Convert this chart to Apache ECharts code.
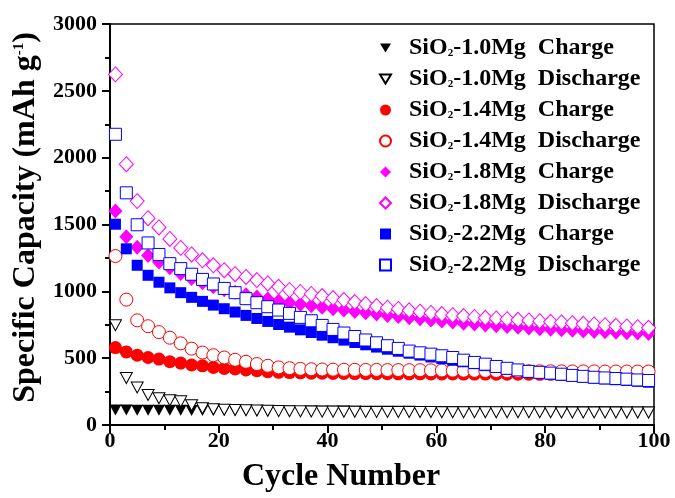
<!DOCTYPE html>
<html>
<head>
<meta charset="utf-8">
<script src="https://cdn.jsdelivr.net/npm/echarts@6/dist/echarts.min.js"></script>
<style>
html,body{margin:0;padding:0;background:#fff;}
#chart{width:675px;height:498px;}
</style>
</head>
<body>
<div id="chart"></div>
<script>
// cycles 1,3,5,...,99
const cycles = [];
for (let c = 1; c <= 99; c += 2) cycles.push(c);

const xTicks = [0, 20, 40, 60, 80, 100];
const yTicks = [0, 500, 1000, 1500, 2000, 2500, 3000];

const mg10Charge = [112,112,111,111,110,110,110,109,109,108,
  108,107,107,106,106,106,105,105,105,104,
  104,104,103,103,103,102,102,102,101,101,
  101,101,100,100,100,100,100,100,100,100,
  100,99,99,99,99,99,99,98,98,98];
const mg10Discharge = [746,351,281,225,200,185,177,148,126,118,
  114,112,110,108,106,104,103,102,101,100,
  100,99,99,98,98,98,97,97,97,97,
  96,96,96,96,96,95,95,95,95,95,
  95,94,94,94,94,94,94,93,93,93];
const mg14Charge = [579,547,522,505,493,473,463,449,443,431,
  423,419,412,406,399,394,392,390,388,387,
  386,386,385,385,384,384,383,383,383,382,
  382,382,381,381,381,380,380,380,380,379,
  379,379,379,378,378,378,378,378,377,377];
const mg14Discharge = [1264,938,783,739,695,653,611,571,542,522,
  505,488,473,456,443,431,425,420,417,415,
  414,413,413,412,412,411,411,410,410,409,
  408,407,406,405,404,404,403,403,402,402,
  402,401,401,401,401,400,400,400,400,400];
const mg18Charge = [1601,1409,1330,1269,1219,1177,1133,1096,1064,1034,
  1012,993,975,958,942,928,915,903,892,881,
  870,860,850,840,830,820,811,802,794,786,
  778,770,762,755,748,742,736,731,726,721,
  716,712,708,704,700,697,694,691,688,685];
const mg18Discharge = [2623,1951,1675,1547,1478,1392,1325,1276,1232,1195,
  1158,1128,1108,1084,1059,1034,1010,995,980,965,
  950,935,920,905,890,878,868,858,848,838,
  830,822,815,808,802,797,792,787,782,777,
  772,767,762,757,752,747,742,737,732,727];
const mg22Charge = [1502,1318,1195,1120,1068,1026,990,955,925,897,
  870,845,820,797,775,752,732,712,692,672,
  653,635,617,600,583,567,552,537,523,509,
  496,484,473,459,444,430,418,407,397,388,
  380,372,365,358,351,345,339,333,327,320];
const mg22Discharge = [2175,1737,1498,1362,1276,1207,1170,1128,1089,1055,
  1022,990,945,915,885,860,835,805,780,745,
  715,688,662,636,615,593,573,553,540,530,
  518,505,485,468,455,438,424,412,401,394,
  388,380,371,364,357,352,348,343,337,333];

const seriesNames = [
  'SiO2-1.0Mg  Charge','SiO2-1.0Mg  Discharge',
  'SiO2-1.4Mg  Charge','SiO2-1.4Mg  Discharge',
  'SiO2-1.8Mg  Charge','SiO2-1.8Mg  Discharge',
  'SiO2-2.2Mg  Charge','SiO2-2.2Mg  Discharge'
];
const seriesData = [mg10Charge, mg10Discharge, mg14Charge, mg14Discharge,
  mg18Charge, mg18Discharge, mg22Charge, mg22Discharge];
const colors = ['#000000','#000000','#ff0000','#ff0000','#ff00ff','#ff00ff','#0000ff','#0000ff'];
const symbols = ['triangle','triangle','circle','circle','diamond','diamond','rect','rect'];
const sizes = [[12,11],[12,11],13,13,[14,15],[14,15],11,12];
const rotates = [180,180,0,0,0,0,0,0];
const legendIcons = ['path://M0,0L12,0L6,10Z','path://M0,0L12,0L6,10Z','circle','circle','diamond','diamond','rect','rect'];

const FONT = "'Liberation Serif','Times New Roman',serif";

const series = seriesNames.map((name, k) => {
  const open = k % 2 === 1;
  return {
    name: name,
    type: 'scatter',
    symbol: symbols[k],
    symbolSize: sizes[k],
    symbolRotate: rotates[k],
    data: cycles.map((c, i) => [c, seriesData[k][i]]),
    itemStyle: open ? {color: '#ffffff', borderColor: colors[k], borderWidth: 1, opacity: 1}
                    : {color: colors[k], opacity: 1},
    emphasis: {disabled: true},
    z: 2 + k
  };
});

const chart = echarts.init(document.getElementById('chart'), null, {renderer: 'canvas'});
chart.setOption({
  animation: false,
  backgroundColor: '#ffffff',
  grid: {left: 110, right: 21, top: 24, bottom: 68, show: true, borderColor: '#000', borderWidth: 1.5, backgroundColor: 'transparent'},
  legend: {
    orient: 'vertical',
    left: 374,
    top: 31,
    itemWidth: 11,
    itemHeight: 11,
    itemGap: 7,
    selectedMode: false,
    data: seriesNames.map((n, k) => ({name: n, icon: legendIcons[k]})),
    formatter: function (n) { return n.replace('SiO2', 'SiO{s|2}'); },
    textStyle: {
      fontFamily: FONT, fontWeight: 'bold', fontSize: 24, color: '#000',
      padding: [0, 0, 0, 13],
      rich: {
        s: {fontFamily: FONT, fontWeight: 'bold', fontSize: 11, padding: [10, 0, 0, 0], color: '#000'}
      }
    }
  },
  xAxis: {
    type: 'value',
    min: 0, max: 100, interval: 20,
    name: 'Cycle Number',
    nameLocation: 'middle',
    nameGap: 36,
    nameTextStyle: {fontFamily: FONT, fontWeight: 'bold', fontSize: 32, color: '#000', padding: [0, 82, 0, 0]},
    axisLine: {show: true, lineStyle: {color: '#000', width: 2}},
    axisTick: {show: true, inside: false, length: 8, lineStyle: {color: '#000', width: 2}},
    minorTick: {show: true, splitNumber: 2, length: 5, lineStyle: {color: '#000', width: 2}},
    axisLabel: {fontFamily: FONT, fontWeight: 'bold', fontSize: 22, color: '#000', margin: 5},
    splitLine: {show: false}
  },
  yAxis: {
    type: 'value',
    min: 0, max: 3000, interval: 500,
    name: 'Specific Capacity (mAh g{sup|-1})',
    nameLocation: 'middle',
    nameGap: 66,
    nameTextStyle: {fontFamily: FONT, fontWeight: 'bold', fontSize: 32, color: '#000', padding: [0, 0, 0, 14],
      rich: {sup: {fontFamily: FONT, fontWeight: 'bold', fontSize: 15, padding: [0, 0, 14, 0], color: '#000'}}},
    axisLine: {show: true, lineStyle: {color: '#000', width: 2}},
    axisTick: {show: true, inside: false, length: 8, lineStyle: {color: '#000', width: 2}},
    minorTick: {show: true, splitNumber: 2, length: 5, lineStyle: {color: '#000', width: 2}},
    axisLabel: {fontFamily: FONT, fontWeight: 'bold', fontSize: 22, color: '#000', margin: 13,
      formatter: function (v) { return String(v); }},
    splitLine: {show: false}
  },
  series: series
});
</script>
</body>
</html>
